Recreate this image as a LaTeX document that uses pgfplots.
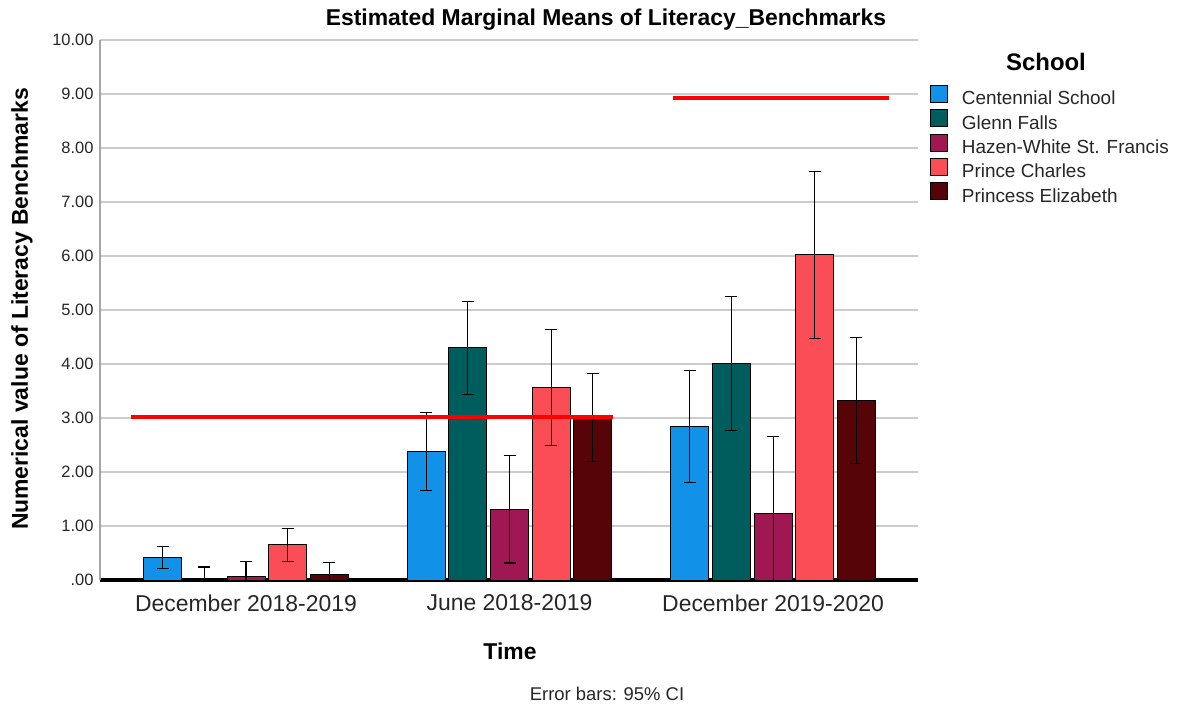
\documentclass[border=0pt]{standalone}
\usepackage{pgfplots}
\usepackage{pgfplotstable}
\pgfplotsset{compat=1.18}
\usepackage{fontspec}
\setmainfont{Liberation Sans}
\definecolor{cCent}{RGB}{17,146,232}
\definecolor{cGlenn}{RGB}{0,93,93}
\definecolor{cHazen}{RGB}{159,24,83}
\definecolor{cPC}{RGB}{250,77,86}
\definecolor{cPE}{RGB}{87,4,8}
\definecolor{gridc}{RGB}{204,204,204}

\pgfplotstableread{
x y err
0 0.42 0.205
1 2.38 0.73
2 2.84 1.04
}\tCent
\pgfplotstableread{
x y err
0 0.00 0.24
1 4.30 0.865
2 4.01 1.24
}\tGlenn
\pgfplotstableread{
x y err
0 0.07 0.27
1 1.31 0.995
2 1.23 1.42
}\tHazen
\pgfplotstableread{
x y err
0 0.65 0.30
1 3.56 1.075
2 6.02 1.54
}\tPC
\pgfplotstableread{
x y err
0 0.10 0.23
1 3.01 0.82
2 3.32 1.17
}\tPE

\pgfplotsset{
  mybar/.style={ybar, bar width=0.144, draw=black, line width=0.9bp},
  myerr/.style={draw=none, mark=none, forget plot,
    error bars/y dir=both, error bars/y explicit,
    error bars/error bar style={draw=black, line width=1.1bp},
    error bars/error mark=-,
    error bars/error mark options={draw=black, rotate=90, mark size=6bp, line width=1.1bp}},
}

\begin{document}
\begin{tikzpicture}
\path[use as bounding box] (0bp,0bp) rectangle (1177bp,-709bp);
\begin{axis}[
  at={(100bp,-580bp)}, anchor=south west,
  scale only axis, width=818bp, height=540bp,
  xmin=-0.554, xmax=2.55, ymin=0, ymax=10,
  axis x line*=bottom, axis y line*=left,
  x axis line style={black, line width=3.5bp, -},
  y axis line style={gray!70, line width=1.3bp, -},
  xtick={0,1,2},
  xticklabels={December 2018-2019, June 2018-2019, December 2019-2020},
  x tick label style={font=\fontsize{23}{26}\selectfont, text=black!85, yshift=-11bp},
  major x tick style={draw=none},
  ytick={0,1,2,3,4,5,6,7,8,9,10},
  yticklabels={.00,1.00,2.00,3.00,4.00,5.00,6.00,7.00,8.00,9.00,10.00},
  y tick label style={font=\fontsize{16.5}{19}\selectfont, text=black!85, xshift=-3bp},
  major y tick style={draw=none},
  ymajorgrids, grid style={gridc, line width=1.3bp},
  legend style={at={(1.0147,0.917)}, anchor=north west, draw=none, fill=none,
    inner sep=0pt, outer sep=0pt,
    font=\fontsize{19}{22}\selectfont, row sep=-1.5bp, column sep=0bp,
    nodes={text=black!85, text height=13bp, text depth=4bp, inner ysep=2bp, inner xsep=0bp}},
  legend cell align=left,
  legend image code/.code={\draw[#1, draw=black, line width=0.8bp] (0bp,-2bp) rectangle (17bp,15bp); \path (31bp,0bp);},
]
\addplot[mybar, fill=cCent, bar shift=-0.316] table[x=x, y=y] {\tCent};
\addlegendentry{Centennial School}
\addplot[mybar, fill=cGlenn, bar shift=-0.158] table[x=x, y=y] {\tGlenn};
\addlegendentry{Glenn Falls}
\addplot[mybar, fill=cHazen, bar shift=0] table[x=x, y=y] {\tHazen};
\addlegendentry{Hazen-White St. Francis}
\addplot[mybar, fill=cPC, bar shift=0.158] table[x=x, y=y] {\tPC};
\addlegendentry{Prince Charles}
\addplot[mybar, fill=cPE, bar shift=0.316] table[x=x, y=y] {\tPE};
\addlegendentry{Princess Elizabeth}
\addplot[myerr] table[x expr=\thisrow{x}-0.316, y=y, y error=err] {\tCent};
\addplot[myerr] table[x expr=\thisrow{x}-0.158, y=y, y error=err] {\tGlenn};
\addplot[myerr] table[x expr=\thisrow{x}, y=y, y error=err] {\tHazen};
\addplot[myerr] table[x expr=\thisrow{x}+0.158, y=y, y error=err] {\tPC};
\addplot[myerr] table[x expr=\thisrow{x}+0.316, y=y, y error=err] {\tPE};
\addplot[sharp plot, red, line width=4bp, forget plot] coordinates {(-0.436,3.01) (1.393,3.01)};
\addplot[sharp plot, red, line width=4bp, forget plot] coordinates {(1.620,8.93) (2.440,8.93)};
\end{axis}
\node[font=\fontsize{23}{26}\selectfont\bfseries] at (606bp,-20bp) {Estimated Marginal Means of Literacy\_Benchmarks};
\node[font=\fontsize{23}{26}\selectfont\bfseries, rotate=90] at (22bp,-309bp) {Numerical value of Literacy Benchmarks};
\node[font=\fontsize{23}{26}\selectfont\bfseries] at (510bp,-651bp) {Time};
\node[font=\fontsize{24}{27}\selectfont\bfseries] at (1046bp,-62bp) {School};
\node[font=\fontsize{18.5}{21}\selectfont, text=black!85] at (607bp,-694bp) {Error bars: 95\% CI};
\end{tikzpicture}
\end{document}
